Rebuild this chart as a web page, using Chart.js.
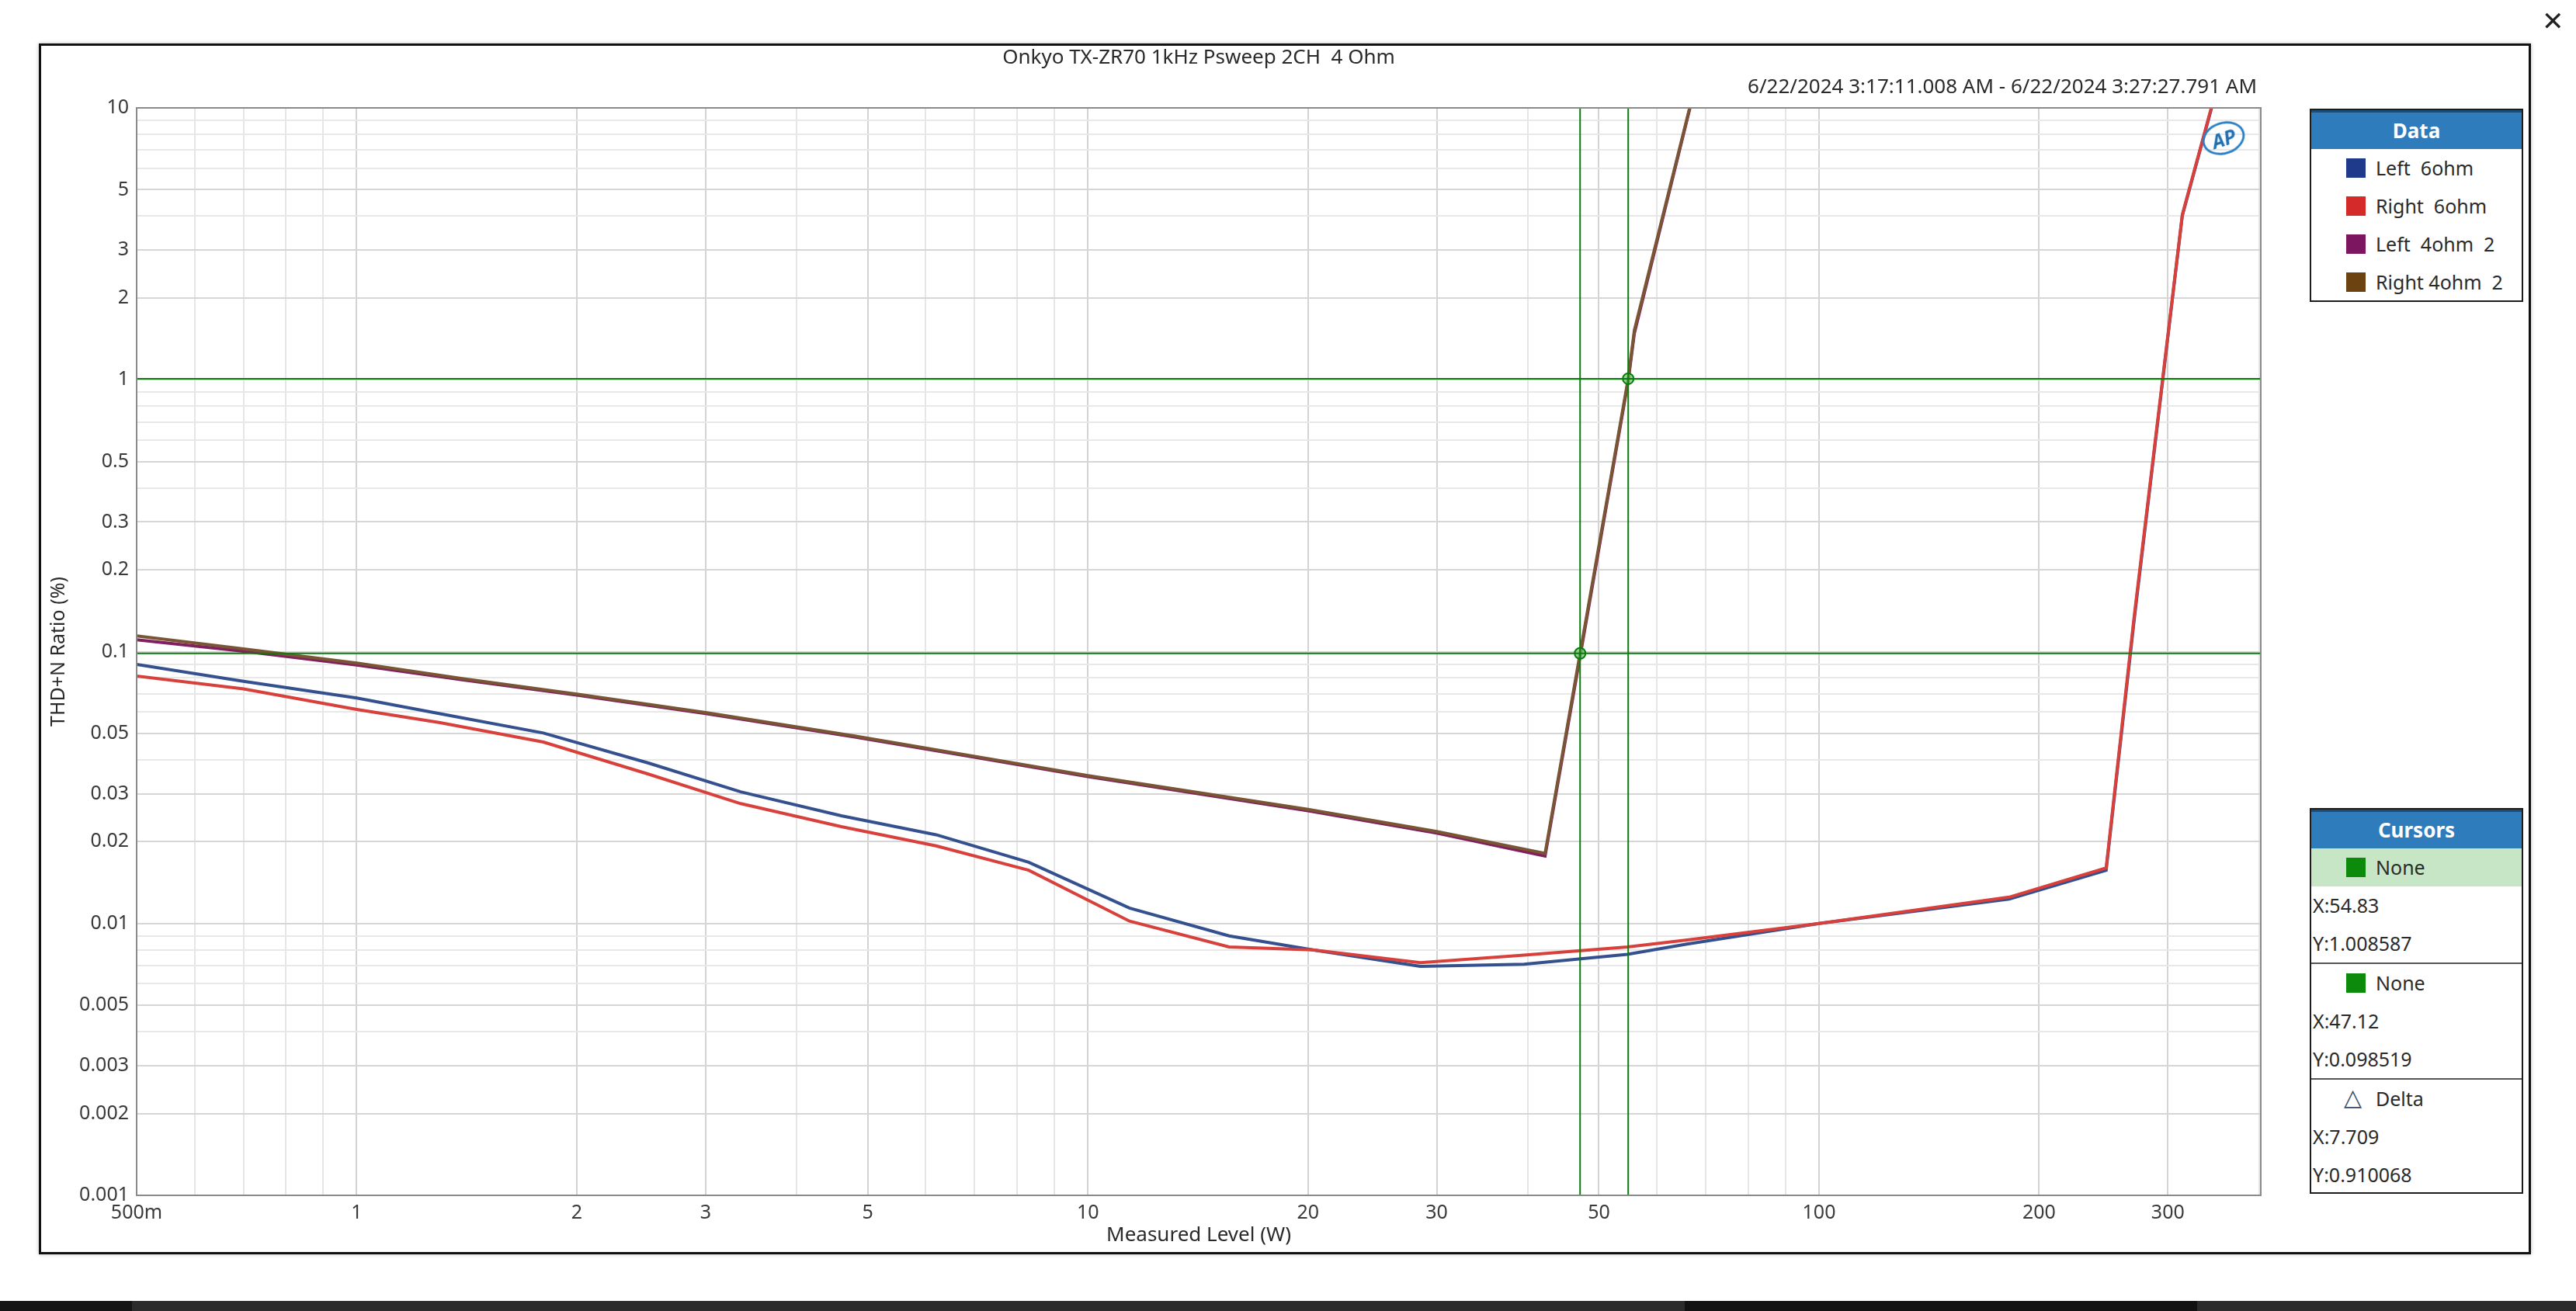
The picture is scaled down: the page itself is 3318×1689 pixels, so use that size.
<!DOCTYPE html>
<html>
<head>
<meta charset="utf-8">
<script src="https://cdn.jsdelivr.net/npm/chart.js@4.4.0/dist/chart.umd.min.js"></script>
<style>
    html, body { margin: 0; padding: 0; background: #fff; }
    body {
        width: 3318px; height: 1689px; position: relative; overflow: hidden;
        font-family: 'Noto Sans', sans-serif; color: #2a2a2a;
    }
    #frame {
        position: absolute; left: 50px; top: 56px; width: 3204px; height: 1554px;
        border: 3px solid #111; box-shadow: 0 0 5px rgba(0,0,0,0.25);
    }
    #chart { position: absolute; left: 0; top: 0; }
    .txt { position: absolute; white-space: pre; font-size: 26px; line-height: 30px; }
    #title { left: 1544px; top: 57px; transform: translateX(-50%); }
    #range { right: 411px; top: 95px; }
    #close { left: 3274px; top: 7px; font-size: 34px; line-height: 40px; font-family: 'DejaVu Sans', sans-serif; color: #222; }
    .panel {
        position: absolute; left: 2975px; width: 271px; background: #fff;
        border: 2px solid #1c1c1c;
    }
    .panel .head {
        height: 47px; line-height: 47px; text-align: center; background: #2f7cbc;
        color: #fff; font-weight: bold; font-size: 26px; border-top: 3px solid #1d4e7a;
    }
    .row { height: 49px; line-height: 49px; font-size: 25px; position: relative; white-space: pre; }
    .sw { position: absolute; left: 45px; top: 12px; width: 25px; height: 25px; }
    .row .lab { position: absolute; left: 83px; }
    .row.val { padding-left: 2px; }
    .sep { border-bottom: 2px solid #555; }
    #ap {
        position: absolute; left: 2836px; top: 157px; width: 50px; height: 36px;
        border: 3px solid #2a7fc4; border-radius: 50%; transform: rotate(-18deg);
        color: #1f6fb3; font-weight: bold; font-style: italic; font-size: 25px;
        line-height: 36px; text-align: center;
    }
    #taskbar { position: absolute; left: 0; top: 1676px; width: 3318px; height: 13px;
        background: linear-gradient(to right, #141414 0, #141414 170px, #2c2c2c 170px, #2c2c2c 2170px,
        #121212 2170px, #121212 2830px, #2c2c2c 2830px); }
</style>
</head>
<body>
<div id="frame"></div>
<canvas id="chart" width="3318" height="1689"></canvas>
<div class="txt" id="title">Onkyo TX-ZR70 1kHz Psweep 2CH  4 Ohm</div>
<div class="txt" id="range">6/22/2024 3:17:11.008 AM - 6/22/2024 3:27:27.791 AM</div>
<div class="txt" id="close">✕</div>
<div id="ap">AP</div>
<div class="panel" id="dataPanel" style="top:140px;height:245px;"><div class="head">Data</div></div>
<div class="panel" id="cursorPanel" style="top:1041px;height:493px;">
    <div class="head">Cursors</div>
    <div class="row" style="background:#c6e6c6;"><span class="sw" style="background:#0b8a0b;"></span><span class="lab">None</span></div>
    <div class="row val" id="c1x"></div>
    <div class="row val sep" id="c1y"></div>
    <div class="row"><span class="sw" style="background:#0b8a0b;"></span><span class="lab">None</span></div>
    <div class="row val" id="c2x"></div>
    <div class="row val sep" id="c2y"></div>
    <div class="row"><span class="sw" style="background:none;left:42px;top:6px;width:32px;height:32px;font-family:'DejaVu Sans';color:#3d4a66;font-size:30px;line-height:34px;">△</span><span class="lab">Delta</span></div>
    <div class="row val" id="dx"></div>
    <div class="row val" id="dy"></div>
</div>
<div id="taskbar"></div>

<script>
// Measured level (W) for the 6 ohm sweeps
const levels6 = [0.5, 0.7, 1.0, 1.3, 1.8, 2.5, 3.35, 4.6, 6.2, 8.3, 11.4, 15.6, 20.3, 28.5, 39.5, 54.7, 66, 100, 182, 247, 270, 314, 345];
const leftSixOhm  = [0.0898, 0.0778, 0.0675, 0.0591, 0.0502, 0.0390, 0.0305, 0.0249, 0.0212, 0.0168, 0.0114, 0.0090, 0.0080, 0.00695, 0.00708, 0.0077, 0.0084, 0.0100, 0.0123, 0.0157, 0.133, 4.02, 10.2];
const rightSixOhm = [0.0813, 0.0729, 0.0613, 0.0548, 0.0465, 0.0355, 0.0276, 0.0227, 0.0193, 0.0157, 0.0102, 0.0082, 0.0080, 0.00718, 0.00765, 0.0082, 0.0087, 0.0100, 0.0125, 0.0160, 0.137, 4.05, 10.3];

// Measured level (W) for the 4 ohm sweeps
const levels4 = [0.5, 0.7, 1.0, 1.4, 2.0, 3.0, 4.8, 7.0, 10, 20, 30, 42.2, 47.12, 54.83, 55.9, 66.6];
const leftFourOhm  = [0.1105, 0.1003, 0.0893, 0.0787, 0.0692, 0.0592, 0.0485, 0.0409, 0.0347, 0.0260, 0.0215, 0.0177, 0.096, 0.99, 1.48, 10.0];
const rightFourOhm = [0.1142, 0.1024, 0.0907, 0.0795, 0.0698, 0.0597, 0.0489, 0.0412, 0.0350, 0.0263, 0.0218, 0.0181, 0.098519, 1.008587, 1.52, 10.1];

const seriesNames = ['Left  6ohm', 'Right  6ohm', 'Left  4ohm  2', 'Right 4ohm  2'];
const swatchColors = ['#1f3a8a', '#d42a2a', '#7d1660', '#6b4210'];
const lineColors = ['#34508f', '#d8403c', '#80205f', '#7a5535'];

// cursor readouts
const cursorX = [54.83, 47.12];
const cursorY = [1.008587, 0.098519];
const deltaX = 7.709;
const deltaY = 0.910068;

const xTickLabels = [0.5, 1, 2, 3, 5, 10, 20, 30, 50, 100, 200, 300];
const yTickLabels = [10, 5, 3, 2, 1, 0.5, 0.3, 0.2, 0.1, 0.05, 0.03, 0.02, 0.01, 0.005, 0.003, 0.002, 0.001];

const X_MIN = 0.5, X_MAX = 402, Y_MIN = 0.001, Y_MAX = 10;
const CURSOR_GREEN = '#0a7d0a';

function pairs(xs, ys) {
    return xs.map((x, i) => ({ x: x, y: ys[i] }));
}

function isLabelled(list, v) {
    return list.some(t => Math.abs(t - v) / t < 1e-6);
}

// 1..9 per decade gridline positions
function gridValues(min, max) {
    const out = [];
    for (let d = -4; d <= 3; d++) {
        for (let k = 1; k <= 9; k++) {
            const v = parseFloat((k * Math.pow(10, d)).toPrecision(3));
            if (v >= min * 0.9999 && v <= max * 1.0001) out.push(v);
        }
    }
    return out;
}

function fmtX(v) {
    return v < 1 ? (v * 1000) + 'm' : String(v);
}

// panels
const dataPanel = document.getElementById('dataPanel');
seriesNames.forEach((name, i) => {
    const row = document.createElement('div');
    row.className = 'row';
    row.innerHTML = '<span class="sw" style="background:' + swatchColors[i] + '"></span><span class="lab">' + name + '</span>';
    dataPanel.appendChild(row);
});
document.getElementById('c1x').textContent = 'X:' + cursorX[0];
document.getElementById('c1y').textContent = 'Y:' + cursorY[0];
document.getElementById('c2x').textContent = 'X:' + cursorX[1];
document.getElementById('c2y').textContent = 'Y:' + cursorY[1];
document.getElementById('dx').textContent = 'X:' + deltaX;
document.getElementById('dy').textContent = 'Y:' + deltaY;

const plotFrame = {
    id: 'plotFrame',
    afterDatasetsDraw(chart) {
        const a = chart.chartArea, ctx = chart.ctx;
        ctx.save();
        ctx.strokeStyle = '#8a8a8a';
        ctx.lineWidth = 2;
        ctx.strokeRect(a.left, a.top, a.right - a.left, a.bottom - a.top);
        ctx.restore();
    }
};

function curve(label, xs, ys, color, order) {
    return {
        label: label, data: pairs(xs, ys), showLine: true,
        borderColor: color, backgroundColor: color, borderWidth: 4,
        pointRadius: 0, order: order
    };
}

function cursorLine(data) {
    return {
        label: 'cursor', data: data, showLine: true, borderColor: CURSOR_GREEN,
        borderWidth: 2, pointRadius: 0, order: 0
    };
}

const datasets = [
    curve(seriesNames[0], levels6, leftSixOhm, lineColors[0], 4),
    curve(seriesNames[1], levels6, rightSixOhm, lineColors[1], 3),
    curve(seriesNames[2], levels4, leftFourOhm, lineColors[2], 2),
    curve(seriesNames[3], levels4, rightFourOhm, lineColors[3], 1),
    cursorLine([{ x: cursorX[0], y: Y_MIN }, { x: cursorX[0], y: Y_MAX }]),
    cursorLine([{ x: cursorX[1], y: Y_MIN }, { x: cursorX[1], y: Y_MAX }]),
    cursorLine([{ x: X_MIN, y: cursorY[0] }, { x: X_MAX, y: cursorY[0] }]),
    cursorLine([{ x: X_MIN, y: cursorY[1] }, { x: X_MAX, y: cursorY[1] }]),
    {
        label: 'markers', data: pairs(cursorX, cursorY), showLine: false,
        pointRadius: 7, pointBorderWidth: 2, borderColor: CURSOR_GREEN,
        backgroundColor: 'rgba(110,190,110,0.7)', order: 0
    }
];

const tickFont = { family: 'Noto Sans', size: 25 };

new Chart(document.getElementById('chart').getContext('2d'), {
    type: 'scatter',
    data: { datasets: datasets },
    options: {
        responsive: false,
        animation: false,
        devicePixelRatio: 1,
        layout: { padding: { left: 61, top: 139, right: 406, bottom: 84 } },
        plugins: { legend: { display: false }, tooltip: { enabled: false } },
        scales: {
            x: {
                type: 'logarithmic', min: X_MIN, max: X_MAX,
                afterBuildTicks: s => { s.ticks = gridValues(X_MIN, X_MAX).map(v => ({ value: v })); },
                afterFit: s => { s.height = 65; },
                grid: {
                    drawTicks: false,
                    lineWidth: 2,
                    color: c => isLabelled(xTickLabels, c.tick.value) ? '#d3d3d3' : '#e6e6e6'
                },
                border: { display: false },
                ticks: {
                    autoSkip: false, maxRotation: 0, minRotation: 0, padding: 8,
                    color: '#3a3a3a', font: tickFont,
                    callback: v => isLabelled(xTickLabels, v) ? fmtX(v) : ''
                },
                title: {
                    display: true, text: 'Measured Level (W)', color: '#2a2a2a',
                    font: { family: 'Noto Sans', size: 26, lineHeight: 1 }, padding: 0
                }
            },
            y: {
                type: 'logarithmic', min: Y_MIN, max: Y_MAX,
                afterBuildTicks: s => { s.ticks = gridValues(Y_MIN, Y_MAX).map(v => ({ value: v })); },
                afterFit: s => { s.width = 115; },
                grid: {
                    drawTicks: false,
                    lineWidth: 2,
                    color: c => isLabelled(yTickLabels, c.tick.value) ? '#d6d6d6' : '#e8e8e8'
                },
                border: { display: false },
                ticks: {
                    autoSkip: false, padding: 10, color: '#3a3a3a', font: tickFont,
                    callback: v => isLabelled(yTickLabels, v) ? String(v) : ''
                },
                title: {
                    display: true, text: 'THD+N Ratio (%)', color: '#2a2a2a',
                    font: { family: 'Noto Sans', size: 25, lineHeight: 1.2 }, padding: 0
                }
            }
        }
    },
    plugins: [plotFrame]
});
</script>
</body>
</html>
